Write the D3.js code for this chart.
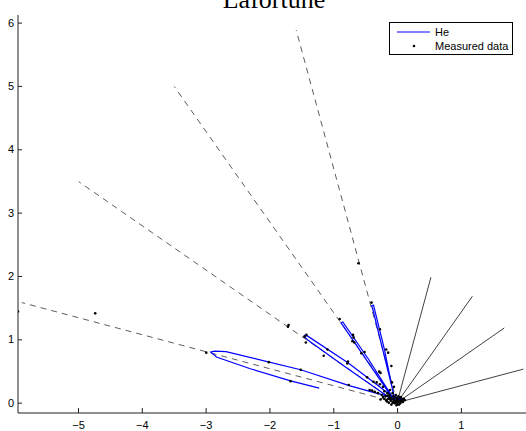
<!DOCTYPE html>
<html><head><meta charset="utf-8">
<script src="https://cdn.jsdelivr.net/npm/d3@7"></script>
<style>body{margin:0;background:#fff}svg{display:block}</style>
</head><body><svg id="c" width="526" height="431"></svg>
<script>
const title = "Lafortune";
const xTicks = [-5,-4,-3,-2,-1,0,1];
const yTicks = [0,1,2,3,4,5,6];
const legendLabels = ["He","Measured data"];
// dashed mirror-direction lines (end points, from origin)
const mirrorEnds = [[-1.58,5.88],[-3.49,4.99],[-4.99,3.49],[-5.88,1.58]];
// solid incident-direction lines
const incidentEnds = [[0.53,1.98],[1.18,1.68],[1.68,1.18],[1.98,0.53]];
// He model lobes
const lobe75 = [[-1.22,0.23],[-1.67,0.345],[-2.3,0.535],[-2.83,0.72],[-2.92,0.80],[-2.86,0.815],[-2.68,0.805],[-2.1,0.665],[-1.51,0.52],[-0.75,0.27],[-0.4,0.17],[-0.12,0.095],[-0.03,0.06],[0.05,0.05],[0.12,0.06]];
const lobe55 = [[-0.08,0.05],[-0.82,0.57],[-1.40,0.99],[-1.46,1.045],[-1.45,1.065],[-1.40,1.05],[-0.77,0.63],[-0.3,0.27],[-0.08,0.1],[0.05,0.06],[0.12,0.06]];
const lobe35 = [[-0.05,0.04],[-0.85,1.22],[-0.88,1.26],[-0.85,1.275],[-0.45,0.69],[-0.08,0.1],[0.06,0.06],[0.11,0.05]];
const lobe15 = [[-0.03,0.04],[-0.385,1.49],[-0.40,1.53],[-0.37,1.54],[-0.2,0.85],[-0.05,0.1],[0.05,0.06],[0.11,0.05]];
const lobes = [lobe75, lobe55, lobe35, lobe15];
// measured data points
const measured = [[-5.94,1.44],[-4.73,1.41],[-2.99,0.79],[-2.01,0.64],[-1.51,0.52],[-1.67,0.34],[-1.43,0.95],[-1.42,1.07],[-1.45,1.04],
 [-0.605,2.2],[-1.71,1.2],[-1.70,1.225],[-1.09,0.84],[-1.15,0.74],[-0.77,0.65],[-0.78,0.62],[-0.757,0.28],[-0.90,1.32],
 [-0.69,1.07],[-0.68,1.03],[-0.70,0.97],[-0.67,0.95],[-0.51,0.80],[-0.56,0.78],[-0.40,1.58],[-0.27,1.16],[-0.17,0.84],[-0.14,0.79],
 [-0.09,0.58],[-0.28,0.49],[-0.26,0.47],[-0.47,0.40],[-0.37,0.33],[-0.32,0.32],[-0.27,0.29],[-0.22,0.25],[-0.43,0.20],[-0.39,0.19],
 [-0.2,0.18],[-0.15,0.15],[-0.12,0.12],[-0.1,0.08],[-0.08,0.05],[-0.05,0.02],[-0.03,0.0],[0.0,-0.02],[0.02,0.01],[0.04,0.03],
 [-0.06,0.1],[-0.1,0.03],[-0.14,0.06],[-0.18,0.1],[0.0,0.06],[0.03,0.08],[0.06,0.02],[0.08,0.04],[0.1,0.06],[-0.02,0.12],
 [-0.07,0.15],[-0.11,0.2],[-0.04,-0.01],[0.01,0.04],[-0.16,0.02],[-0.2,0.06],[-0.24,0.12],[-0.3,0.15],[-0.35,0.17],[-0.05,0.25],[-0.08,0.32],
 [-0.13,0.0],[-0.09,-0.03],[-0.01,-0.04],[0.05,-0.01],[0.09,0.01],[0.12,0.04],[-0.17,0.04],[-0.12,0.09],[-0.05,0.06],[-0.02,0.08],
 [0.02,0.1],[0.06,0.09],[-0.07,0.0],[-0.03,0.03],[0.0,0.02],[-0.11,0.06],[-0.15,0.11],[-0.22,0.09],[-0.26,0.05],[0.07,0.06],[0.03,-0.03]];

const svg = d3.select("#c");
const L = 18, R = 526, T = 15, B = 413;
const x = d3.scaleLinear().domain([-5.94, 2.02]).range([L, R]);
const y = d3.scaleLinear().domain([-0.163, 6.12]).range([B, T]);

svg.append("defs").append("clipPath").attr("id","clip").append("rect")
  .attr("x",L).attr("y",T).attr("width",R-L).attr("height",B-T);
const g = svg.append("g").attr("clip-path","url(#clip)");

g.selectAll("line.mir").data(mirrorEnds).join("line").attr("class","mir")
  .attr("x1",x(0)).attr("y1",y(0)).attr("x2",d=>x(d[0])).attr("y2",d=>y(d[1]))
  .attr("stroke","#333").attr("stroke-width",0.8).attr("stroke-dasharray","6,5");
g.selectAll("line.inc").data(incidentEnds).join("line").attr("class","inc")
  .attr("x1",x(0)).attr("y1",y(0)).attr("x2",d=>x(d[0])).attr("y2",d=>y(d[1]))
  .attr("stroke","#111").attr("stroke-width",0.8);
const line = d3.line().x(d=>x(d[0])).y(d=>y(d[1]));
g.selectAll("path.lobe").data(lobes).join("path").attr("class","lobe")
  .attr("d",line).attr("fill","none").attr("stroke","#0000ff").attr("stroke-width",1.2);
g.selectAll("circle.m").data(measured).join("circle").attr("class","m")
  .attr("cx",d=>x(d[0])).attr("cy",d=>y(d[1])).attr("r",1.3).attr("fill","#000");

// axes
const fmt = d=>d<0?"\u2212"+(-d):String(d);
const xAxis = svg.append("g").attr("transform",`translate(0,${B})`)
  .call(d3.axisBottom(x).tickValues(xTicks).tickSize(-5).tickPadding(8).tickFormat(fmt));
const yAxis = svg.append("g").attr("transform",`translate(${L},0)`)
  .call(d3.axisLeft(y).tickValues(yTicks).tickSize(-4).tickPadding(4).tickFormat(fmt));
[xAxis,yAxis].forEach(a=>{
  a.select(".domain").attr("stroke","#222").attr("stroke-width",1);
  a.selectAll(".tick line").attr("stroke","#222");
  a.selectAll("text").attr("font-family","'Liberation Sans',Arial,sans-serif").attr("font-size",11).attr("fill","#000");
});
xAxis.select(".domain").attr("d",`M${L},0H${R}`);
yAxis.select(".domain").attr("d",`M0,${B}V${T}`);

svg.append("text").attr("x",274).attr("y",8).attr("text-anchor","middle")
  .attr("font-family","'Liberation Serif','Times New Roman',serif").attr("font-size",26).text(title);

// legend
const lg = svg.append("g");
lg.append("rect").attr("x",389.5).attr("y",22.5).attr("width",123).attr("height",32)
  .attr("fill","#fff").attr("stroke","#000").attr("stroke-width",1);
lg.append("line").attr("x1",397).attr("x2",430).attr("y1",32).attr("y2",32).attr("stroke","#0000ff").attr("stroke-width",1);
lg.append("circle").attr("cx",414).attr("cy",46).attr("r",1.3).attr("fill","#000");
lg.selectAll("text").data(legendLabels).join("text").attr("x",435).attr("y",(d,i)=>32+i*14).attr("dy","0.35em")
  .attr("font-family","'Liberation Sans',Arial,sans-serif").attr("font-size",11).text(d=>d);
</script></body></html>
